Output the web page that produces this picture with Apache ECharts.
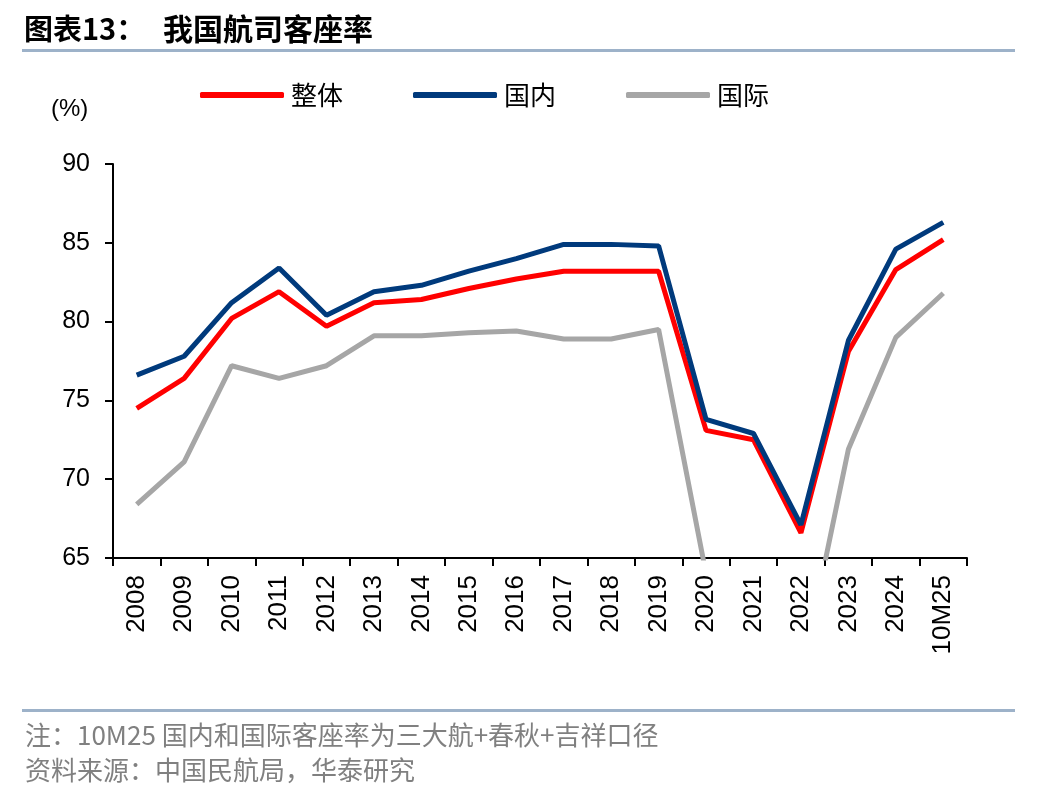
<!DOCTYPE html>
<html>
<head>
<meta charset="utf-8">
<script src="https://cdn.jsdelivr.net/npm/echarts@6/dist/echarts.min.js"></script>
<style>html,body{margin:0;padding:0;background:#fff}#c{width:1048px;height:800px}</style>
</head>
<body>
<div id="c"></div>
<script>
var categories = ['2008','2009','2010','2011','2012','2013','2014','2015','2016','2017','2018','2019','2020','2021','2022','2023','2024','10M25'];
var overall = [74.5,76.4,80.2,81.9,79.7,81.2,81.4,82.1,82.7,83.2,83.2,83.2,73.1,72.5,66.6,78.1,83.3,85.2];
var domestic = [76.6,77.8,81.2,83.4,80.4,81.9,82.3,83.2,84.0,84.9,84.9,84.8,73.8,72.9,67.1,78.8,84.6,86.3];
var international = [68.4,71.1,77.2,76.4,77.2,79.1,79.1,79.3,79.4,78.9,78.9,79.5,64.0,55.0,57.4,71.9,79.0,81.8];
var yTicks = {min:65, max:90, interval:5};
var seriesNames = ['整体','国内','国际'];

var chart = echarts.init(document.getElementById('c'));
var lat = '"Liberation Sans", Arial, sans-serif';
var cjk = '"Noto Sans CJK SC", sans-serif';
chart.setOption({
  animation:false,
  backgroundColor:'#fff',
  textStyle:{fontFamily:lat},
  grid:{left:113, right:81, top:164, bottom:242, containLabel:false},
  legend:{
    top:77, left:195, itemWidth:84, itemHeight:6, itemGap:70,
    icon:'roundRect',
    textStyle:{fontSize:26, color:'#000', fontFamily:cjk, padding:[0,0,0,2]},
    data:seriesNames
  },
  xAxis:{
    type:'category', data:categories, boundaryGap:true,
    axisLine:{lineStyle:{color:'#000', width:2}},
    axisTick:{show:true, length:8, interval:0, lineStyle:{color:'#000', width:2}},
    axisLabel:{rotate:90, interval:0, fontSize:26, color:'#000', margin:17, fontFamily:lat},
    splitLine:{show:false}
  },
  yAxis:{
    type:'value', min:yTicks.min, max:yTicks.max, interval:yTicks.interval,
    axisLine:{show:true, lineStyle:{color:'#000', width:2}},
    axisTick:{show:true, length:8, lineStyle:{color:'#000', width:2}},
    axisLabel:{fontSize:25, color:'#000', margin:23, fontFamily:lat},
    splitLine:{show:false}
  },
  series:[
    {name:seriesNames[0], type:'line', data:overall, symbol:'none', lineStyle:{color:'#ff0000', width:5}, itemStyle:{color:'#ff0000'}, z:3},
    {name:seriesNames[1], type:'line', data:domestic, symbol:'none', lineStyle:{color:'#003a7c', width:5}, itemStyle:{color:'#003a7c'}, z:4},
    {name:seriesNames[2], type:'line', data:international, symbol:'none', lineStyle:{color:'#a6a6a6', width:5}, itemStyle:{color:'#a6a6a6'}, z:2}
  ],
  graphic:[
    {type:'text', left:24, top:14, style:{text:'图表13：', font:'bold 29px "Noto Sans CJK SC", sans-serif', fill:'#000'}},
    {type:'text', left:163, top:14, style:{text:'我国航司客座率', font:'bold 30px "Noto Sans CJK SC", sans-serif', fill:'#000'}},
    {type:'rect', shape:{x:22, y:49, width:993, height:3}, style:{fill:'#9db2c9'}},
    {type:'text', left:51, top:97, style:{text:'(%)', font:'24px "Liberation Sans", Arial, sans-serif', fill:'#000'}},
    {type:'rect', shape:{x:22, y:709, width:993, height:3}, style:{fill:'#9db2c9'}},
    {type:'text', left:25, top:722, style:{text:'注：10M25 国内和国际客座率为三大航+春秋+吉祥口径', font:'26px "Noto Sans CJK SC", sans-serif', fill:'#808080'}},
    {type:'text', left:25, top:757, style:{text:'资料来源：中国民航局，华泰研究', font:'26px "Noto Sans CJK SC", sans-serif', fill:'#808080'}}
  ]
});
</script>
</body>
</html>
